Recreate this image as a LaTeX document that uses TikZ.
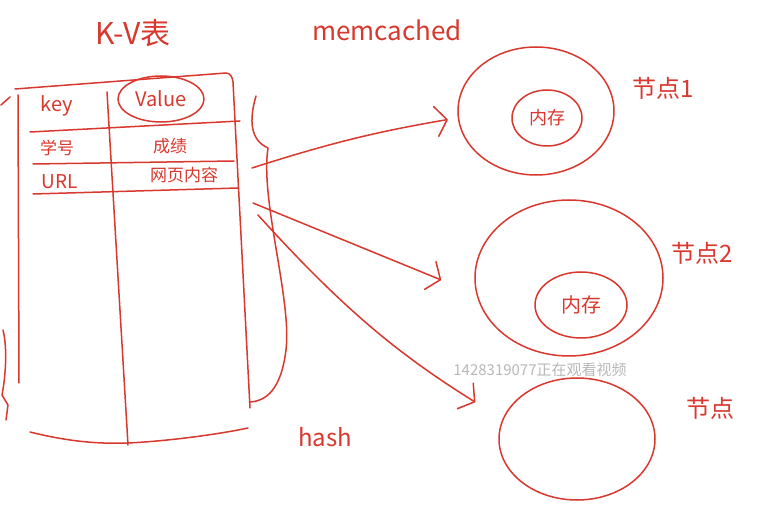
\documentclass[tikz,border=0pt]{standalone}
\usepackage{fontspec}
\newfontfamily\cjk{Noto Sans CJK SC}
\usetikzlibrary{arrows.meta,shapes.geometric}
\definecolor{penRed}{HTML}{D8382E}
\definecolor{markGray}{HTML}{B8B8B8}

\begin{document}
\begin{tikzpicture}[x=1pt,y=-1pt,line cap=round,line join=round]
\path[fill=white] (0,0) rectangle (772,505);
\tikzset{pen/.style={draw=penRed,line width=1.5pt},
  penarrow/.style={pen,-{Straight Barb[length=11pt,width=30pt,round]}},
  ring/.style={pen,ellipse,inner sep=0pt},
  hand/.style={text=penRed,font=\cjk}}
% titles
\node[hand,font=\cjk\fontsize{30}{32}\selectfont] (kvTitle) at (133,33) {K-V表};
\node[hand,font=\cjk\fontsize{26}{28}\selectfont] (mcTitle) at (387,30) {memcached};
% table
\draw[pen] (15,89) -- (226,73) to[out=0,in=95] (233,82) -- (250,408);
\draw[pen] (18,95) -- (19,383);
\draw[pen] (107,92) -- (128,445);
\draw[pen] (30,132) -- (240,121);
\draw[pen] (33,164) -- (234,161);
\draw[pen] (33,194) -- (238,188);
\draw[pen] (30,432) .. controls (70,442) and (100,444) .. (128,443) .. controls (170,441) and (220,434) .. (248,428);
\node[hand,font=\cjk\fontsize{20}{22}\selectfont] (keyHead) at (57,106) {key};
\node[hand,ring,minimum width=86pt,minimum height=46pt,font=\cjk\fontsize{20}{22}\selectfont] (valHead) at (161,99) {Value};
\node[hand,font=\cjk\fontsize{17}{19}\selectfont] (keyOne) at (57,148) {学号};
\node[hand,font=\cjk\fontsize{17}{19}\selectfont] (valOne) at (170,146) {成绩};
\node[hand,font=\cjk\fontsize{19}{21}\selectfont] (keyTwo) at (60,182) {URL};
\node[hand,font=\cjk\fontsize{17}{19}\selectfont] (valTwo) at (184,175) {网页内容};
% braces
\draw[pen] (256,96) .. controls (249,120) and (250,140) .. (268,148)
  .. controls (260,200) and (292,300) .. (286,350) .. controls (281,390) and (266,401) .. (250,402);
\draw[pen] (1,105) -- (10,97);
\draw[pen] (3,330) .. controls (8,350) and (5,380) .. (2,395) -- (8,405) -- (6,420);
\node[hand,font=\cjk\fontsize{24}{26}\selectfont] (hashLbl) at (325,437) {hash};
% memcached nodes
\node[ring,minimum width=156pt,minimum height=128pt] (nodeOne) at (536,111) {};
\node[ring,hand,minimum width=70pt,minimum height=56pt,font=\cjk\fontsize{18}{20}\selectfont] (memOne) at (547,118) {内存};
\node[ring,minimum width=188pt,minimum height=156pt] (nodeTwo) at (569,278) {};
\node[ring,hand,minimum width=92pt,minimum height=66pt,font=\cjk\fontsize{20}{22}\selectfont] (memTwo) at (581,305) {内存};
\node[ring,minimum width=156pt,minimum height=122pt] (nodeThree) at (577,439) {};
\node[hand,font=\cjk\fontsize{24}{26}\selectfont] (lblOne) at (663,88) {节点1};
\node[hand,font=\cjk\fontsize{24}{26}\selectfont] (lblTwo) at (702,253) {节点2};
\node[hand,font=\cjk\fontsize{24}{26}\selectfont] (lblThree) at (710,408) {节点};
% hash arrows
\coordinate (tailOne) at (252,168);
\coordinate (tailTwo) at (253,203);
\coordinate (tailThree) at (258,215);
\draw[penarrow,shorten >=10pt] (tailOne) to[bend left=4] (nodeOne.185);
\draw[penarrow,shorten >=38pt] (tailTwo) -- (nodeTwo.190);
\draw[penarrow,shorten >=32pt] (tailThree) to[bend right=8] (nodeThree.165);
% watermark
\node[text=markGray,font=\cjk\fontsize{15}{17}\selectfont] (mark) at (540,370) {1428319077正在观看视频};
\end{tikzpicture}
\end{document}
